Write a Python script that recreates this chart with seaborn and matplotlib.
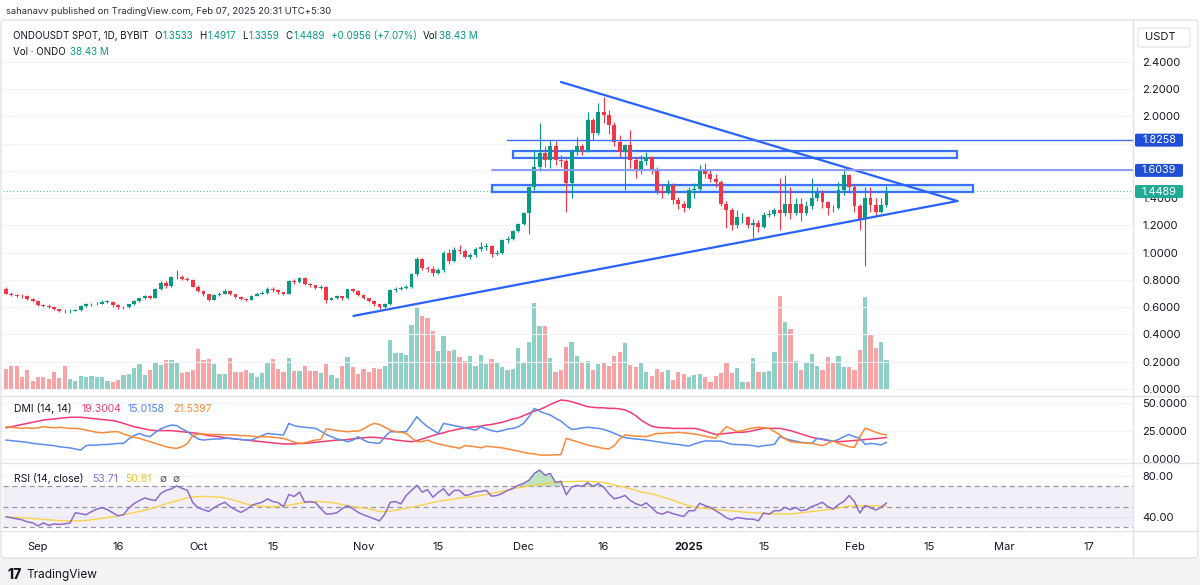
import numpy as np
import pandas as pd
import matplotlib
matplotlib.use('Agg')
import matplotlib.pyplot as plt
import seaborn as sns
from matplotlib.patches import Rectangle, FancyBboxPatch
from matplotlib.lines import Line2D

# ---------------- data (daily, starting 2024-08-26) ----------------
start_date = '2024-08-26'
first_open = 0.735

closes = [
    0.70, 0.69, 0.685, 0.68, 0.66, 0.645, 0.615, 0.61, 0.60, 0.585,
    0.575, 0.57, 0.575, 0.58, 0.61, 0.62, 0.62, 0.625, 0.64, 0.64,
    0.615, 0.60, 0.60, 0.62, 0.645, 0.665, 0.68, 0.67, 0.735, 0.78,
    0.755, 0.82, 0.825, 0.81, 0.80, 0.75, 0.72, 0.695, 0.655, 0.69,
    0.70, 0.72, 0.695, 0.675, 0.66, 0.655, 0.685, 0.70, 0.705, 0.735,
    0.725, 0.71, 0.70, 0.79, 0.785, 0.815, 0.77, 0.76, 0.74, 0.75,
    0.655, 0.665, 0.68, 0.665, 0.73, 0.72, 0.69, 0.665, 0.645, 0.62,
    0.60, 0.62, 0.725, 0.735, 0.74, 0.745, 0.84, 0.95, 0.89, 0.88,
    0.85, 0.87, 1.00, 0.94, 1.02, 1.01, 0.97, 0.98, 1.03, 1.04,
    1.05, 0.99, 1.00, 1.09, 1.10, 1.16, 1.21, 1.29, 1.48, 1.63,
    1.73, 1.68, 1.78, 1.68, 1.67, 1.51, 1.74, 1.78, 1.75, 1.97,
    1.88, 2.03, 2.01, 1.94, 1.81, 1.74, 1.79, 1.68, 1.61, 1.67,
    1.70, 1.61, 1.45, 1.44, 1.50, 1.39, 1.36, 1.33, 1.46, 1.47,
    1.61, 1.58, 1.54, 1.52, 1.36, 1.31, 1.20, 1.26, 1.26, 1.20,
    1.22, 1.19, 1.28, 1.285, 1.31, 1.29, 1.36, 1.29, 1.36, 1.29,
    1.34, 1.40, 1.44, 1.37, 1.33, 1.325, 1.46, 1.57, 1.48, 1.34,
    1.25, 1.40, 1.35, 1.30, 1.3533, 1.4489,
]
highs = [
    0.745, 0.71, 0.70, 0.695, 0.69, 0.67, 0.65, 0.625, 0.62, 0.605,
    0.59, 0.585, 0.585, 0.59, 0.615, 0.63, 0.63, 0.635, 0.65, 0.65,
    0.645, 0.62, 0.61, 0.625, 0.65, 0.67, 0.69, 0.69, 0.74, 0.79,
    0.79, 0.83, 0.875, 0.835, 0.82, 0.805, 0.76, 0.725, 0.70, 0.695,
    0.71, 0.735, 0.725, 0.70, 0.68, 0.67, 0.69, 0.71, 0.72, 0.745,
    0.745, 0.73, 0.715, 0.80, 0.81, 0.825, 0.82, 0.78, 0.765, 0.76,
    0.755, 0.675, 0.69, 0.685, 0.735, 0.74, 0.725, 0.695, 0.67, 0.65,
    0.625, 0.63, 0.735, 0.75, 0.755, 0.76, 0.85, 0.965, 0.96, 0.905,
    0.90, 0.89, 1.01, 1.03, 1.04, 1.06, 1.03, 1.00, 1.045, 1.08,
    1.07, 1.06, 1.02, 1.10, 1.12, 1.17, 1.22, 1.30, 1.49, 1.75,
    1.95, 1.78, 1.83, 1.82, 1.72, 1.69, 1.76, 1.85, 1.80, 2.03,
    1.99, 2.10, 2.14, 2.05, 1.96, 1.86, 1.80, 1.90, 1.70, 1.72,
    1.74, 1.71, 1.63, 1.50, 1.53, 1.51, 1.41, 1.38, 1.48, 1.51,
    1.64, 1.66, 1.61, 1.58, 1.53, 1.38, 1.33, 1.31, 1.29, 1.27,
    1.25, 1.24, 1.30, 1.31, 1.33, 1.55, 1.57, 1.48, 1.40, 1.40,
    1.38, 1.55, 1.48, 1.46, 1.38, 1.35, 1.52, 1.62, 1.58, 1.50,
    1.36, 1.48, 1.48, 1.40, 1.40, 1.4917,
]
lows = [
    0.695, 0.68, 0.675, 0.67, 0.655, 0.64, 0.61, 0.60, 0.595, 0.58,
    0.565, 0.56, 0.56, 0.57, 0.575, 0.605, 0.61, 0.615, 0.62, 0.63,
    0.605, 0.59, 0.59, 0.595, 0.615, 0.64, 0.66, 0.66, 0.665, 0.725,
    0.74, 0.75, 0.81, 0.80, 0.79, 0.745, 0.71, 0.685, 0.645, 0.65,
    0.685, 0.695, 0.69, 0.67, 0.655, 0.645, 0.65, 0.68, 0.695, 0.70,
    0.715, 0.70, 0.69, 0.695, 0.77, 0.78, 0.76, 0.75, 0.73, 0.735,
    0.63, 0.65, 0.66, 0.655, 0.66, 0.71, 0.68, 0.66, 0.635, 0.61,
    0.59, 0.595, 0.615, 0.715, 0.725, 0.735, 0.74, 0.83, 0.87, 0.86,
    0.83, 0.84, 0.86, 0.92, 0.93, 0.99, 0.96, 0.95, 0.97, 1.01,
    1.02, 0.97, 0.98, 0.99, 1.07, 1.09, 1.15, 1.20, 1.14, 1.46,
    1.60, 1.63, 1.62, 1.64, 1.63, 1.30, 1.40, 1.72, 1.72, 1.74,
    1.83, 1.86, 1.95, 1.87, 1.78, 1.70, 1.46, 1.62, 1.55, 1.58,
    1.64, 1.58, 1.43, 1.40, 1.43, 1.36, 1.32, 1.30, 1.32, 1.40,
    1.45, 1.55, 1.52, 1.48, 1.34, 1.18, 1.17, 1.18, 1.22, 1.18,
    1.11, 1.15, 1.18, 1.26, 1.27, 1.17, 1.27, 1.25, 1.28, 1.23,
    1.28, 1.32, 1.38, 1.33, 1.28, 1.30, 1.32, 1.42, 1.44, 1.30,
    1.17, 0.90, 1.30, 1.27, 1.29, 1.3359,
]
# volume in millions
volume = [
    26.5, 30.5, 30.5, 15.9, 25.2, 10.6, 15.9, 15.9, 13.3, 22.5,
    14.6, 30.5, 13.3, 10.6, 17.2, 15.9, 17.2, 15.9, 15.9, 10.6,
    9.3, 11.9, 18.6, 19.9, 27.8, 33.1, 18.6, 25.2, 35.8, 31.8,
    38.4, 38.4, 34.5, 21.2, 22.5, 25.2, 53.0, 38.4, 39.8, 33.1,
    19.9, 19.9, 41.1, 22.5, 22.5, 25.2, 21.2, 15.9, 21.2, 35.8,
    39.8, 26.5, 22.5, 41.1, 23.9, 23.9, 30.5, 23.9, 23.9, 21.2,
    33.1, 18.6, 14.6, 30.5, 42.4, 29.2, 19.9, 26.5, 22.5, 27.8,
    26.5, 30.5, 64.9, 47.7, 47.7, 45.1, 84.8, 107.3, 96.7, 94.1,
    76.9, 50.4, 70.2, 50.4, 51.7, 42.4, 37.1, 43.7, 30.5, 45.1,
    33.1, 39.8, 34.5, 29.2, 25.2, 26.5, 54.3, 34.5, 62.3, 114.0,
    83.5, 83.5, 41.1, 22.5, 25.2, 55.7, 62.3, 43.7, 35.8, 37.1,
    25.2, 33.1, 34.5, 30.5, 43.7, 49.0, 61.0, 31.8, 29.2, 34.5,
    22.5, 17.2, 26.5, 22.5, 25.2, 11.9, 22.5, 19.9, 15.9, 18.6,
    19.9, 15.9, 9.3, 17.2, 21.2, 35.8, 21.2, 27.8, 9.3, 9.3,
    41.1, 22.5, 22.5, 23.9, 49.0, 123.2, 88.8, 79.5, 37.1, 25.2,
    35.8, 46.4, 30.5, 25.2, 42.4, 35.8, 43.7, 29.2, 29.2, 25.2,
    51.7, 121.9, 71.6, 54.3, 62.3, 38.43,
]
adx = [
    28, 29, 30, 31, 32, 33, 34, 35, 35.5, 36,
    36.5, 37, 37.5, 37.5, 37.5, 37, 36.5, 36, 35.5, 35,
    34.5, 33.5, 32, 30.5, 29, 28, 27, 26, 25.5, 25.5,
    25.5, 25.5, 25, 24.5, 24, 23.5, 23, 22, 21, 20.5,
    20, 19, 18.5, 18, 17.5, 17, 16.5, 16, 15.5, 15,
    14.5, 14, 13.5, 13.5, 13.5, 14, 14, 14.5, 15, 15.5,
    16, 16.5, 17, 17, 17.5, 18, 18.5, 19, 19.5, 19.5,
    19, 18.5, 18, 17, 16.5, 16, 15.5, 16.5, 18, 19.5,
    21, 22.5, 23.5, 25, 26, 27, 28, 28.5, 29, 29.5,
    30.5, 31, 32, 33, 34.5, 36, 37, 39, 41, 43,
    44.5, 46.5, 49, 51, 53, 52.5, 51.5, 50, 48.5, 47,
    46.5, 46, 46, 45.5, 45.5, 45, 44, 42, 39, 35,
    32, 29.5, 28.5, 28, 28, 27.5, 27.5, 27.5, 27.5, 27.5,
    26.5, 25, 23.5, 22, 22.5, 23, 23.5, 24, 24, 24.5,
    25.5, 26.5, 27.5, 27.5, 27.5, 27.5, 26.5, 25.5, 24, 22.5,
    21, 19.5, 18.5, 17.5, 16.5, 16, 15.6, 15.8, 16.2, 16.6,
    17.0, 17.4, 17.8, 18.3, 18.8, 19.3004,
]
plus_di = [
    17, 16.5, 16, 15.5, 15, 14, 13.5, 13, 12.5, 12,
    11, 10.5, 10, 9, 8, 12, 12.5, 12.5, 13, 13,
    13.5, 14, 14, 18, 21, 23, 21, 20, 24, 27,
    29, 30.5, 30, 27, 24.5, 21, 18, 17, 17.5, 18,
    18, 18.5, 18.5, 18, 17.5, 17, 17, 19, 21, 23,
    22.5, 22, 21.5, 32, 30, 29, 28.5, 28, 27.5, 25,
    22, 20, 18, 17, 15.5, 17, 20, 17, 15, 14.5,
    14, 20, 24.5, 24.5, 24.5, 24.5, 31, 38, 33, 29,
    26, 23, 32, 31, 30, 29, 28, 27, 26, 29,
    27, 25.5, 24.5, 25.5, 27, 27.5, 29, 32, 38, 45.5,
    43, 41, 39.5, 36.5, 34, 30, 26.6, 27, 28, 28.5,
    28, 27.5, 26.6, 25, 23, 21, 19.2, 18.5, 18, 17.5,
    17, 16.2, 15.5, 14.8, 14, 13.5, 13, 12.2, 11.7, 13.5,
    15, 16.2, 16.2, 16, 16, 14.5, 13.2, 13, 12.8, 12.6,
    12, 11, 12, 12.5, 13.2, 20, 18.5, 17, 16, 15,
    14.5, 14, 18.6, 18, 17, 16, 17.5, 20, 22, 20,
    18.6, 13.2, 14, 13.5, 12.6, 15.0158,
]
minus_di = [
    29, 28.5, 28, 27.5, 28, 27.5, 28, 29, 28.5, 28,
    28.5, 28, 27.5, 27.5, 27, 26, 25, 24, 23.5, 24,
    24.5, 24.5, 22.5, 21, 19.5, 18.5, 17, 15.5, 14, 12.5,
    11, 10, 9.6, 11, 14, 21, 22.5, 22.5, 22, 22,
    22, 21.6, 21.6, 21.5, 21, 21, 20.5, 20, 20, 20,
    19.5, 19, 18.5, 17, 15, 14, 14.5, 16, 17, 17.5,
    27, 26.5, 25.5, 25, 24.5, 25, 25, 27, 30, 32,
    31, 28.5, 26, 24.6, 24, 23, 19, 15.6, 15.6, 17,
    15, 13.5, 12.6, 11.5, 10.5, 9.6, 12, 11.5, 11, 10,
    11.5, 11, 10.5, 10, 9, 8, 7, 6, 5, 4.5,
    3.6, 3.5, 3.5, 3.7, 4, 18.6, 17, 15.6, 14, 12.5,
    11.5, 10.5, 9.5, 9, 12, 18, 21.6, 21, 20.5, 20.5,
    20, 21.5, 23, 23, 23.5, 23.5, 24, 23.5, 23, 22.5,
    21.6, 20.5, 19.5, 18.6, 24, 29, 27, 24.6, 25.5, 27,
    28, 28.5, 28, 27.6, 24.6, 21.6, 18, 15.6, 15, 14.5,
    14.2, 14, 13, 12, 14, 16.2, 14, 12.5, 11, 10.5,
    20, 27.6, 26, 24, 22.5, 21.5397,
]
rsi = [
    40, 39, 38, 37, 35, 34, 31, 34, 31.5, 33,
    32.5, 33, 34, 44, 43, 42, 45, 47.5, 49, 47,
    44, 41, 42, 48.5, 53, 56, 58.5, 57, 56, 63,
    66, 67.5, 70.5, 68, 66, 54, 49, 47, 45.3, 49,
    52, 54.3, 50, 47, 44.3, 47, 51, 53, 54.3, 57.7,
    55, 54, 50, 62, 60, 64.3, 54.3, 55, 54, 48,
    42.7, 43, 44, 48, 51, 48, 44.3, 42, 40, 38,
    36, 42.7, 54.3, 55, 52.7, 61, 66, 71, 64.3, 66.7,
    59.3, 64, 67.7, 61, 66, 66, 61, 62, 64.3, 65,
    66, 60.3, 61, 63, 66, 68, 71, 73, 76, 82.7,
    86, 81, 82.7, 73.7, 75, 61.7, 69.3, 71, 70, 73.7,
    70, 72.7, 69.3, 62.7, 57.7, 59, 61, 56, 53, 51,
    53.7, 49, 44, 42.7, 45, 43, 41.7, 40.3, 46, 46,
    53.3, 51, 49.3, 46, 42.7, 39, 37, 39.3, 38.5, 37.7,
    37.7, 36, 43.7, 42.5, 46, 46, 49.3, 47, 49.3, 46,
    47, 50, 52, 54.3, 50, 47.7, 52, 55, 61, 55,
    43.7, 51, 49, 46.7, 49.3, 53.71,
]
rsi_ma = [
    40, 39.7, 39.3, 39, 38.6, 38.3, 37.9, 37.5, 37.1, 36.7,
    36.3, 36, 36, 36, 36.2, 36.5, 37, 37.7, 38.4, 39.2,
    40, 41, 42, 43, 44.2, 45.3, 46.5, 47.7, 49.3, 51,
    52.7, 54.3, 55.8, 57.3, 58.7, 59.4, 60, 60, 60, 59.8,
    59.3, 58.7, 57.5, 56, 54.3, 52.7, 51.7, 51, 50.5, 50,
    50, 50.2, 50.6, 51.5, 52.5, 53.3, 54, 54.5, 55, 55,
    54.5, 54, 53.3, 52, 51, 50.2, 49.3, 48.5, 47.7, 46.5,
    45.3, 45, 45.5, 46.5, 47.5, 48.5, 49.3, 50.5, 51.7, 53,
    54.2, 55.2, 56, 56.8, 57.6, 58.4, 59, 59.6, 60.3, 61,
    62, 63, 64, 65, 66.5, 67.7, 68.6, 69.5, 70.4, 71.3,
    72, 72.7, 73.3, 73.8, 74.3, 74.6, 74.8, 75, 75, 75,
    74.7, 74.3, 73.7, 72.5, 71.3, 70, 68.8, 67.7, 66.3, 64.5,
    63.5, 62.7, 61, 59.5, 58, 56.2, 54.3, 52.5, 51, 49.3,
    48.7, 48.2, 47.7, 47.2, 46.7, 46.2, 45.7, 45.2, 44.8, 44.3,
    44, 43.7, 43.5, 43.2, 42.9, 42.7, 42.7, 42.7, 43.3, 44,
    44.5, 45, 45.7, 46.3, 47, 47.8, 48.5, 50, 50.5, 50.8,
    51, 51, 51, 50.9, 50.8, 50.81,
]

price_ticks = [0.0, 0.2, 0.4, 0.6, 0.8, 1.0, 1.2, 1.4, 2.0, 2.2, 2.4]
dmi_ticks = [0, 25, 50]
rsi_ticks = [40, 80]
date_ticks = ['2024-09-01', '2024-09-16', '2024-10-01', '2024-10-15', '2024-11-01',
              '2024-11-15', '2024-12-01', '2024-12-16', '2025-01-01', '2025-01-15',
              '2025-02-01', '2025-02-15', '2025-03-01', '2025-03-17']
date_labels = ['Sep', '16', 'Oct', '15', 'Nov', '15', 'Dec', '16', '2025', '15',
               'Feb', '15', 'Mar', '17']

# drawings on the chart (day offset from start, price)
support_x, support_y = [65.1, 178.3], [0.536, 1.379]
resist_x, resist_y = [104.0, 178.3], [2.252, 1.379]
zone_hi = (95.0, 178.3, 1.695, 1.746)
zone_lo = (91.0, 181.2, 1.443, 1.497)
level_a, level_a_start = 1.8258, 93.9
level_b, level_b_start = 1.6039, 91.0
last_price = 1.4489

# ---------------- style ----------------
sns.set_style('white')
plt.rcParams['font.family'] = ['Inter', 'DejaVu Sans']

TXT = '#131722'
UP, DN = '#089981', '#f23645'
UPV, DNV = '#8fd0c6', '#f7a4a6'
BLUE = '#2962ff'
GRID = '#f0f3fa'
SEP = '#e0e3eb'

W, H = 1200, 585
fig = plt.figure(figsize=(12, 5.85), dpi=100)
fig.patch.set_facecolor('white')


def rect(x0, y0, x1, y1):
    return [x0 / W, 1 - y1 / H, (x1 - x0) / W, (y1 - y0) / H]


def ptxt(x, y, s, **kw):
    kw.setdefault('va', 'center')
    kw.setdefault('ha', 'left')
    return fig.text(x / W, 1 - y / H, s, **kw)


n = min(len(closes), len(highs), len(lows), len(volume), len(adx),
        len(plus_di), len(minus_di), len(rsi), len(rsi_ma))
idx = np.arange(n)
c = np.array(closes[:n])
o = np.array([first_open] + closes[:n - 1])
hi = np.array(highs[:n])
lo = np.array(lows[:n])
up = c >= o
t0 = pd.Timestamp(start_date)
tick_pos = [(pd.Timestamp(d) - t0).days for d in date_ticks]

XL = (-0.56, 211.2)
PLOT_R = 1133

# ---------------- price pane ----------------
ax_vol = fig.add_axes(rect(3, 20, PLOT_R, 396))
ax = fig.add_axes(rect(3, 20, PLOT_R, 396))
ax.patch.set_visible(False)

vol_df = pd.DataFrame({'day': idx, 'vol': volume[:n], 'dir': np.where(up, 'up', 'down')})
sns.barplot(data=vol_df, x='day', y='vol', hue='dir', palette={'up': UPV, 'down': DNV},
            native_scale=True, width=0.8, errorbar=None, legend=False, saturation=1,
            linewidth=0, ax=ax_vol)
ax_vol.set_xlim(*XL)
ax_vol.set_ylim(-9.3, 489)
ax_vol.axis('off')

cols = np.where(up, UP, DN)
ax.vlines(idx, lo, hi, colors=cols, linewidth=0.8, zorder=3)
body = np.maximum(np.abs(c - o), 0.004)
ax.bar(idx, body, bottom=np.minimum(o, c), width=0.72, color=cols, linewidth=0, zorder=4)

ax.plot(support_x, support_y, color=BLUE, lw=1.6, zorder=5, solid_capstyle='round')
ax.plot(resist_x, resist_y, color=BLUE, lw=1.6, zorder=5, solid_capstyle='round')
for (x0, x1, y0, y1), fc in [(zone_hi, '#edf7fc'), (zone_lo, '#d9f1fa')]:
    ax.add_patch(Rectangle((x0, y0), x1 - x0, y1 - y0, facecolor=fc, edgecolor=BLUE,
                           lw=1.6, alpha=0.9, zorder=2))
ax.plot([level_a_start, XL[1]], [level_a, level_a], color='#3f6ef0', lw=1.0, zorder=5)
ax.plot([level_b_start, XL[1]], [level_b, level_b], color='#8a9cf0', lw=1.4, zorder=5)
ax.axhline(last_price, color='#5bbfb2', lw=0.8, ls=(0, (1, 2)), zorder=1)

ax.set_xlim(*XL)
ax.set_ylim(-0.0514, 2.707)
ax.set_yticks(price_ticks)
ax.set_yticklabels([f'{v:.4f}' for v in price_ticks])
ax.yaxis.tick_right()
ax.tick_params(axis='y', length=0, pad=6.5, labelsize=8, labelcolor=TXT)
ax.set_xticks([])
ax.grid(axis='y', color=GRID, lw=0.8)
for yy in (1.6, 1.8):
    ax.axhline(yy, color=GRID, lw=0.8, zorder=0)
for s in ax.spines.values():
    s.set_visible(False)

# ---------------- DMI pane ----------------
ax_dmi = fig.add_axes(rect(3, 396, PLOT_R, 463))
sns.lineplot(x=idx, y=adx[:n], color='#f23a74', lw=1.1, ax=ax_dmi)
sns.lineplot(x=idx, y=plus_di[:n], color='#5b8def', lw=1.1, ax=ax_dmi)
sns.lineplot(x=idx, y=minus_di[:n], color='#f98a3c', lw=1.1, ax=ax_dmi)
ax_dmi.set_xlim(*XL)
ax_dmi.set_ylim(-3.6, 56.6)
ax_dmi.set_yticks(dmi_ticks)
ax_dmi.set_yticklabels([f'{v:.4f}' for v in dmi_ticks])
ax_dmi.yaxis.tick_right()
ax_dmi.tick_params(axis='y', length=0, pad=6.5, labelsize=8, labelcolor=TXT)
ax_dmi.set_xticks([])
ax_dmi.grid(axis='y', color=GRID, lw=0.8)
ax_dmi.set_xlabel('')
ax_dmi.set_ylabel('')
for s in ax_dmi.spines.values():
    s.set_visible(False)

# ---------------- RSI pane ----------------
ax_rsi = fig.add_axes(rect(3, 463, PLOT_R, 531))
r = np.array(rsi[:n], dtype=float)
ax_rsi.axhspan(30, 70, color='#7e57c2', alpha=0.09, lw=0)
for lvl in (70, 50, 30):
    ax_rsi.axhline(lvl, color='#9598a1', lw=0.9, ls=(0, (4, 3)))
ax_rsi.fill_between(idx, 70, r, where=r > 70, interpolate=True, color='#4caf50', alpha=0.35, lw=0)
sns.lineplot(x=idx, y=rsi_ma[:n], color='#f7d44a', lw=1.0, ax=ax_rsi)
sns.lineplot(x=idx, y=r, color='#8e6bcc', lw=1.1, ax=ax_rsi)
ax_rsi.set_xlim(*XL)
ax_rsi.set_ylim(26, 93)
ax_rsi.set_yticks(rsi_ticks)
ax_rsi.set_yticklabels([f'{v:.2f}' for v in rsi_ticks])
ax_rsi.yaxis.tick_right()
ax_rsi.tick_params(axis='y', length=0, pad=6.5, labelsize=8, labelcolor=TXT)
ax_rsi.grid(axis='y', color=GRID, lw=0.8)
ax_rsi.set_xticks(tick_pos)
ax_rsi.set_xticklabels(date_labels)
ax_rsi.tick_params(axis='x', length=0, pad=8, labelsize=8, labelcolor=TXT)
for lab in ax_rsi.get_xticklabels():
    if lab.get_text() == '2025':
        lab.set_fontweight('bold')
ax_rsi.set_xlabel('')
ax_rsi.set_ylabel('')
for s in ax_rsi.spines.values():
    s.set_visible(False)

# ---------------- frame, separators ----------------
fig.patches.append(Rectangle((0, 0), 1, 1 - 558 / H, transform=fig.transFigure,
                             facecolor='#f3f3f3', edgecolor='none', zorder=0))
fig.patches.append(FancyBboxPatch((1 / W, 1 - 558 / H), 1197 / W, 538 / H,
                                  boxstyle='round,pad=0,rounding_size=0.004',
                                  transform=fig.transFigure, facecolor='none',
                                  edgecolor=SEP, lw=1, zorder=1))
for yy in (396, 463, 531):
    fig.lines.append(Line2D([1 / W, 1198 / W], [1 - yy / H] * 2, transform=fig.transFigure,
                            color=SEP, lw=1))
fig.lines.append(Line2D([PLOT_R / W] * 2, [1 - 20 / H, 1 - 558 / H], transform=fig.transFigure,
                        color=SEP, lw=1))

# right-side price labels
for val, fc in [(level_a, '#1f4fd6'), (level_b, '#1f4fd6'), (last_price, '#22ab94')]:
    yy = 389 - 136.3 * val
    fig.patches.append(FancyBboxPatch((1135 / W, 1 - (yy + 6.5) / H), 48 / W, 13 / H,
                                      boxstyle='round,pad=0,rounding_size=0.002',
                                      transform=fig.transFigure, facecolor=fc,
                                      edgecolor='none', zorder=5))
    ptxt(1159, yy, f'{val:.4f}', ha='center', fontsize=7.8, color='white', zorder=6)

fig.patches.append(FancyBboxPatch((1138 / W, 1 - 47 / H), 52 / W, 19 / H,
                                  boxstyle='round,pad=0,rounding_size=0.004',
                                  transform=fig.transFigure, facecolor='white',
                                  edgecolor=SEP, lw=0.8, zorder=5))
ptxt(1145, 37, 'USDT', fontsize=8, color=TXT, zorder=6)

# ---------------- header texts ----------------
renderer = fig.canvas.get_renderer()


def chain(y, parts, size):
    # each part: (wanted x, gap after previous, text, colour)
    x_end = 0
    for x, gap, s, col in parts:
        xx = max(x, x_end + gap)
        t = ptxt(xx, y, s, fontsize=size, color=col)
        x_end = t.get_window_extent(renderer).x1


ptxt(6, 12, 'sahanavv published on TradingView.com, Feb 07, 2025 20:31 UTC+5:30',
     fontsize=6.8, color='#2a2e39')
chain(36, [(12.7, 0, 'ONDOUSDT SPOT, 1D, BYBIT', TXT),
           (145, 6, 'O', TXT), (150, 1, '1.3533', UP),
           (187, 6, 'H', TXT), (193, 1, '1.4917', UP),
           (228, 6, 'L', TXT), (232, 1, '1.3359', UP),
           (268, 6, 'C', TXT), (273, 1, '1.4489', UP),
           (310, 6, '+0.0956 (+7.07%)', UP),
           (395, 6, 'Vol', TXT), (409, 1, '38.43 M', UP)], 7)
chain(52, [(12.7, 0, 'Vol · ONDO', TXT), (68, 5, '38.43 M', UP)], 7)

chain(409, [(14, 0, 'DMI (14, 14)', TXT), (81, 6, '19.3004', '#f23a74'),
            (128, 6, '15.0158', '#4f82f0'), (173, 6, '21.5397', '#f98a3c')], 7.5)
chain(479, [(14, 0, 'RSI (14, close)', TXT), (92, 6, '53.71', '#8e6bcc'),
            (125, 6, '50.81', '#f2c230'), (160, 6, '\u2205', '#50535e'),
            (173, 5, '\u2205', '#50535e')], 7.5)

# ---------------- footer logo ----------------
ptxt(7, 575, '17', fontsize=10, fontweight='heavy', color='#131722')
ptxt(26, 575, 'TradingView', fontsize=8.5, color='#131722')

fig.savefig('out.png', dpi=100)
